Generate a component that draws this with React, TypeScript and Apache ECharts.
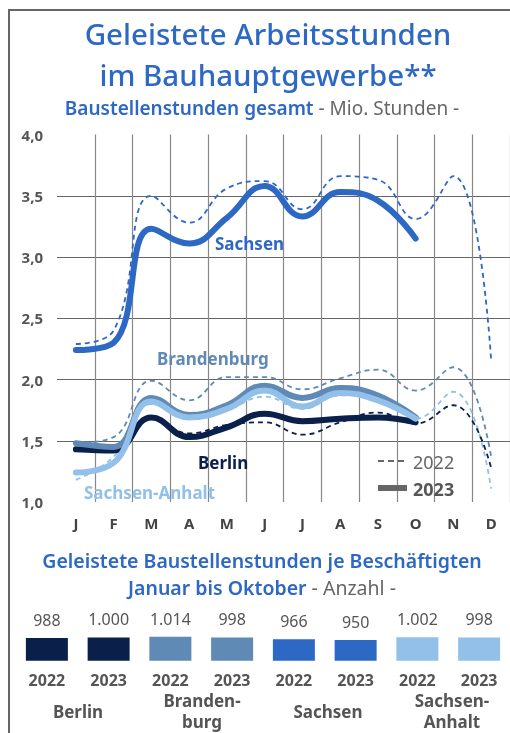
import React, { useEffect, useRef } from "react";
import * as echarts from "echarts";

const months = ["J", "F", "M", "A", "M", "J", "J", "A", "S", "O", "N", "D"];

const sachsen2023 = [2.24, 2.3, 3.23, 3.11, 3.32, 3.58, 3.33, 3.53, 3.46, 3.15];
const sachsen2022 = [2.29, 2.4, 3.5, 3.28, 3.56, 3.62, 3.39, 3.66, 3.63, 3.31, 3.66, 2.16];
const brandenburg2023 = [1.48, 1.45, 1.85, 1.71, 1.79, 1.95, 1.85, 1.93, 1.87, 1.69];
const brandenburg2022 = [1.48, 1.53, 1.99, 1.83, 2.02, 2.02, 1.92, 2.01, 2.08, 1.91, 2.1, 1.37];
const berlin2023 = [1.43, 1.42, 1.69, 1.53, 1.61, 1.72, 1.66, 1.68, 1.69, 1.65];
const berlin2022 = [1.42, 1.45, 1.68, 1.56, 1.63, 1.65, 1.55, 1.65, 1.73, 1.64, 1.79, 1.28];
const anhalt2023 = [1.24, 1.32, 1.82, 1.69, 1.76, 1.91, 1.78, 1.89, 1.83, 1.68];
const anhalt2022 = [1.18, 1.37, 1.8, 1.68, 1.75, 1.86, 1.76, 1.87, 1.85, 1.68, 1.9, 1.11];

const barYears = ["2022", "2023", "2022", "2023", "2022", "2023", "2022", "2023"];
const barValues = [988, 1000, 1014, 998, 966, 950, 1002, 998];
const states = ["Berlin", "Branden-\nburg", "Sachsen", "Sachsen-\nAnhalt"];

const C_BERLIN = "#0B1F4B";
const C_BRAND = "#5F8AB5";
const C_SACHSEN = "#2D68C4";
const C_ANHALT = "#92C0E8";
const barColors = [C_BERLIN, C_BERLIN, C_BRAND, C_BRAND, C_SACHSEN, C_SACHSEN, C_ANHALT, C_ANHALT];

const FONT = "'Noto Sans'";

function fmtThousands(v: number) {
  return String(v).replace(/\B(?=(\d{3})+(?!\d))/g, ".");
}

export default function App() {
  const ref = useRef<HTMLDivElement>(null);
  useEffect(() => {
    if (!ref.current) return;
    const chart = echarts.init(ref.current, undefined, { renderer: "svg" });

    const dashed = (name: string, data: number[], color: string) => ({
      name,
      type: "line",
      xAxisIndex: 0,
      yAxisIndex: 0,
      data,
      smooth: 0.45,
      symbol: "none",
      lineStyle: { color, width: 1.8, type: [5, 4] },
      z: 2,
    });
    const solid = (name: string, data: number[], color: string, z: number) => ({
      name,
      type: "line",
      xAxisIndex: 0,
      yAxisIndex: 0,
      data,
      smooth: 0.45,
      symbol: "none",
      lineStyle: { color, width: 6, cap: "round" },
      z,
    });

    const stateX = [78, 202, 328, 452];

    chart.setOption({
      animation: false,
      textStyle: { fontFamily: FONT },
      grid: [
        { left: 57, top: 134.5, width: 453, height: 367.5 },
        { left: 16, top: 634.8, width: 496, height: 25.9 },
      ],
      xAxis: [
        {
          type: "category",
          gridIndex: 0,
          data: months,
          boundaryGap: true,
          axisLine: { show: false },
          axisTick: { show: false },
          axisLabel: { color: "#444", fontSize: 15, fontWeight: "bold", margin: 13, fontFamily: FONT },
          splitLine: { show: true, showMinLine: false, lineStyle: { color: "#888", width: 1.2 } },
        },
        {
          type: "category",
          gridIndex: 1,
          data: barYears,
          axisLine: { show: false },
          axisTick: { show: false },
          axisLabel: { color: "#555", fontSize: 16, fontWeight: "bold", margin: 11, fontFamily: FONT, interval: 0 },
          splitLine: { show: false },
        },
      ],
      yAxis: [
        {
          type: "value",
          gridIndex: 0,
          min: 1,
          max: 4,
          interval: 0.5,
          axisLine: { show: false },
          axisTick: { show: false },
          axisLabel: {
            color: "#555",
            fontSize: 15,
            fontWeight: "bold",
            margin: 14,
            fontFamily: FONT,
            formatter: (v: number) => v.toFixed(1).replace(".", ","),
          },
          splitLine: { show: true, showMinLine: false, showMaxLine: false, lineStyle: { color: "#666", width: 1.2 } },
        },
        {
          type: "value",
          gridIndex: 1,
          min: 550,
          max: 1050,
          show: false,
          splitLine: { show: false },
        },
      ],
      series: [
        dashed("Sachsen 2022", sachsen2022, C_SACHSEN),
        dashed("Brandenburg 2022", brandenburg2022, C_BRAND),
        dashed("Sachsen-Anhalt 2022", anhalt2022, C_ANHALT),
        dashed("Berlin 2022", berlin2022, C_BERLIN),
        solid("Berlin 2023", berlin2023, C_BERLIN, 3),
        solid("Brandenburg 2023", brandenburg2023, C_BRAND, 4),
        solid("Sachsen-Anhalt 2023", anhalt2023, C_ANHALT, 5),
        solid("Sachsen 2023", sachsen2023, C_SACHSEN, 6),
        {
          name: "je Beschäftigten",
          type: "bar",
          xAxisIndex: 1,
          yAxisIndex: 1,
          barWidth: 42,
          data: barValues.map((v, i) => ({ value: v, itemStyle: { color: barColors[i] } })),
          label: {
            show: true,
            position: "top",
            distance: 10,
            color: "#555",
            fontSize: 16,
            fontFamily: FONT,
            formatter: (p: any) => fmtThousands(p.value),
          },
        },
      ],
      graphic: [
        { type: "line", shape: { x1: 9, y1: 733, x2: 9, y2: 10 }, style: { stroke: "#666", lineWidth: 2 } },
        { type: "line", shape: { x1: 8, y1: 10, x2: 510, y2: 10 }, style: { stroke: "#666", lineWidth: 2 } },
        {
          type: "text", x: 268, y: 53.5,
          style: {
            text: "Geleistete Arbeitsstunden\nim Bauhauptgewerbe**",
            fill: "#2D68C4",
            font: `500 29.5px ${FONT}`,
            lineHeight: 41,
            align: "center",
            verticalAlign: "middle",
          },
        },
        {
          type: "text", x: 262, y: 107.5,
          style: {
            text: "{a|Baustellenstunden gesamt}{b| - Mio. Stunden -}",
            align: "center", verticalAlign: "middle",
            rich: {
              a: { fill: "#2D68C4", fontSize: 19, fontWeight: 600, fontFamily: FONT },
              b: { fill: "#666", fontSize: 19, fontFamily: FONT },
            },
          },
        },
        { type: "text", x: 215, y: 243, z: 10, style: { text: "Sachsen", fill: C_SACHSEN, font: `bold 17px ${FONT}`, verticalAlign: "middle" } },
        { type: "text", x: 157, y: 358, z: 10, style: { text: "Brandenburg", fill: C_BRAND, font: `bold 17px ${FONT}`, verticalAlign: "middle" } },
        { type: "text", x: 198, y: 462, z: 10, style: { text: "Berlin", fill: C_BERLIN, font: `bold 17px ${FONT}`, verticalAlign: "middle" } },
        { type: "text", x: 84, y: 492, z: 10, style: { text: "Sachsen-Anhalt", fill: C_ANHALT, font: `bold 17px ${FONT}`, verticalAlign: "middle" } },
        { type: "line", z: 10, shape: { x1: 378, y1: 461, x2: 407, y2: 461 }, style: { stroke: "#666", lineWidth: 2, lineDash: [6, 4] } },
        { type: "text", x: 413, y: 462, z: 10, style: { text: "2022", fill: "#666", font: `18px ${FONT}`, verticalAlign: "middle" } },
        { type: "line", z: 10, shape: { x1: 378, y1: 488, x2: 407, y2: 488 }, style: { stroke: "#666", lineWidth: 6 } },
        { type: "text", x: 413, y: 489, z: 10, style: { text: "2023", fill: "#555", font: `bold 18px ${FONT}`, verticalAlign: "middle" } },
        {
          type: "text", x: 262, y: 573.5,
          style: {
            text: "{a|Geleistete Baustellenstunden je Beschäftigten}\n{a|Januar bis Oktober}{b| - Anzahl -}",
            align: "center", verticalAlign: "middle",
            rich: {
              a: { fill: "#2D68C4", fontSize: 19.5, fontWeight: 600, fontFamily: FONT, lineHeight: 27 },
              b: { fill: "#666", fontSize: 19.5, fontFamily: FONT, lineHeight: 27 },
            },
          },
        },
        ...states.map((s, i) => ({
          type: "text",
          x: stateX[i],
          y: 711,
          style: {
            text: s,
            fill: "#555",
            font: `bold 17px ${FONT}`,
            align: "center",
            verticalAlign: "middle",
            lineHeight: 21,
          },
        })),
      ],
    });
    return () => chart.dispose();
  }, []);
  return <div ref={ref} style={{ position: "fixed", left: 0, top: 0, width: 510, height: 733 }} />;
}
